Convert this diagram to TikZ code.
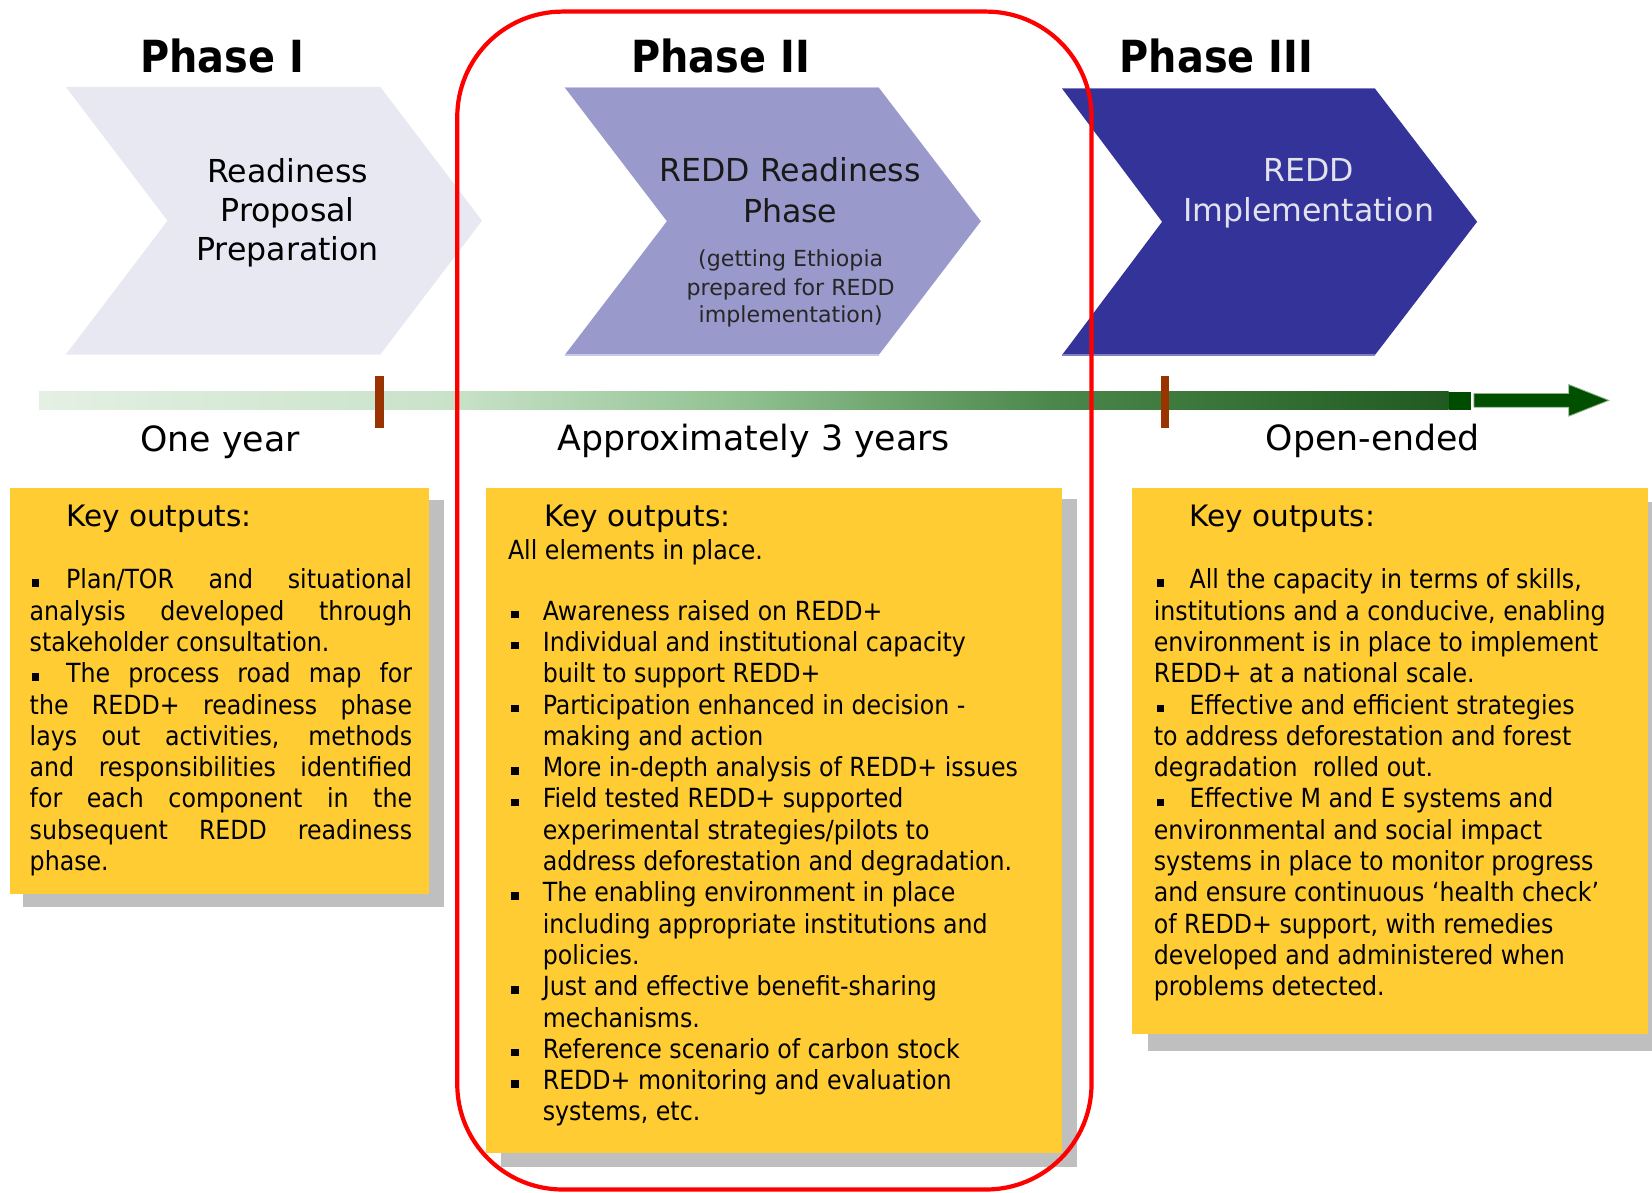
\documentclass[tikz,border=0pt]{standalone}
\usepackage{fontspec}
\setmainfont{DejaVu Sans}
\newfontfamily\condf{DejaVu Sans Condensed}
\definecolor{yel}{RGB}{255,204,51}
\definecolor{shd}{RGB}{191,191,191}
\definecolor{chevone}{RGB}{232,232,243}
\definecolor{chevtwo}{RGB}{153,153,204}
\definecolor{chevtwoline}{RGB}{200,200,230}
\definecolor{chevthree}{RGB}{51,51,153}
\definecolor{chevthreeline}{RGB}{128,128,192}
\definecolor{lighttxt}{RGB}{226,226,236}
\definecolor{tickc}{RGB}{153,51,0}
\definecolor{arrowg}{RGB}{0,80,0}
\definecolor{darkend}{RGB}{0,77,0}
\definecolor{gA}{RGB}{228,240,228}
\definecolor{gB}{RGB}{200,226,200}
\definecolor{gC}{RGB}{145,193,145}
\definecolor{gD}{RGB}{75,135,75}
\definecolor{gE}{RGB}{32,90,32}
\pgfdeclarehorizontalshading{tlshade}{100bp}{color(0bp)=(gA); color(25bp)=(gA); color(39.7bp)=(gB); color(49.8bp)=(gC); color(61bp)=(gD); color(75bp)=(gE); color(100bp)=(gE)}
\newcommand\bul{\rule[2pt]{7pt}{7pt}}
\begin{document}
\begin{tikzpicture}[x=1pt,y=-1pt,
  body/.style={anchor=base west, inner sep=0pt, font=\condf\fontsize{25}{30}\selectfont},
  head/.style={anchor=base west, inner sep=0pt, font=\fontsize{28}{32}\selectfont},
  phase/.style={anchor=base, inner sep=0pt, font=\condf\bfseries\fontsize{42}{48}\selectfont},
  chevtxt/.style={anchor=base, inner sep=0pt, font=\fontsize{30}{36}\selectfont},
  smalltxt/.style={anchor=base, inner sep=0pt, font=\fontsize{21}{25}\selectfont},
  lbl/.style={anchor=base, inner sep=0pt, font=\fontsize{33}{40}\selectfont},
  ybox/.style={fill=yel},
  sbox/.style={fill=shd}]
\useasboundingbox (0,0) rectangle (1568,1132);

% phase titles
\node[phase] (p1) at (211,69) {Phase I};
\node[phase] (p2) at (684,69) {Phase II};
\node[phase] (p3) at (1154.5,69) {Phase III};

% chevrons
\fill[chevone] (62.5,82.5) -- (361,82.5) -- (457.5,209.5) -- (361,336.5) -- (62.5,336.5) -- (159,209.5) -- cycle;
\fill[chevtwo] (536,83) -- (834,83) -- (931,210) -- (834,337) -- (536,337) -- (633,210) -- cycle;
\draw[chevtwoline, line width=1.5pt] (536,83) -- (834,83);
\draw[chevtwoline, line width=1.5pt] (536,337) -- (834,337);
\fill[chevthree] (1008,84) -- (1305,84) -- (1402,210.5) -- (1305,337) -- (1008,337) -- (1103,210.5) -- cycle;
\draw[chevthreeline, line width=1.5pt] (1008,84) -- (1305,84);
\draw[chevthreeline, line width=1.5pt] (1008,337) -- (1305,337);

\node[chevtxt] (c1a) at (273,173) {Readiness};
\node[chevtxt] (c1b) at (273,210) {Proposal};
\node[chevtxt] (c1c) at (273,247) {Preparation};

\node[chevtxt, text=black!90] (c2a) at (750,172) {REDD Readiness};
\node[chevtxt, text=black!90] (c2b) at (750,211) {Phase};
\node[smalltxt, text=black!85] (c2c) at (750.5,253) {(getting Ethiopia};
\node[smalltxt, text=black!85] (c2d) at (750.5,280) {prepared for REDD};
\node[smalltxt, text=black!85] (c2e) at (750.5,306) {implementation)};

\node[chevtxt, text=lighttxt] (c3a) at (1242,172) {REDD};
\node[chevtxt, text=lighttxt] (c3b) at (1242,210) {Implementation};

% timeline
\shade[shading=tlshade] (37,372) rectangle (1375,389);
\fill[darkend] (1375,372) rectangle (1396,389);
\filldraw[fill=arrowg, draw=arrowg!45!white, line width=0.8pt] (1399,373.5) -- (1489,373.5) -- (1489,365) -- (1527,380) -- (1489,395) -- (1489,386.5) -- (1399,386.5) -- cycle;
\fill[tickc] (356,357) rectangle (364,406);
\fill[tickc] (1102,357) rectangle (1110,406);

\node[lbl] (t1) at (209,429) {One year};
\node[lbl] (t2) at (715.5,428) {Approximately 3 years};
\node[lbl] (t3) at (1303,428) {Open-ended};

% boxes
\fill[sbox] (21.5,474.5) rectangle (421,861);
\fill[ybox] (9.5,463) rectangle (407,849);
\fill[sbox] (475.5,474) rectangle (1022,1108);
\fill[ybox] (461,463) rectangle (1008,1094);
\fill[sbox] (1089.5,476) rectangle (1568,997.5);
\fill[ybox] (1074,463) rectangle (1564,981);

% box 1
\node[head] (b1h) at (62.6,500) {Key outputs:};
\node[body] (b1l0) at (28,559.0) {\makebox[363pt][s]{\hspace{2pt}\bul\hspace{25.6pt}Plan/TOR and situational}};
\node[body] (b1l1) at (28,588.7) {\makebox[363pt][s]{analysis developed through}};
\node[body] (b1l2) at (28,618.4) {stakeholder consultation.};
\node[body] (b1l3) at (28,648.1) {\makebox[363pt][s]{\hspace{2pt}\bul\hspace{25.6pt}The process road map for}};
\node[body] (b1l4) at (28,677.8) {\makebox[363pt][s]{the REDD+ readiness phase}};
\node[body] (b1l5) at (28,707.5) {\makebox[363pt][s]{lays out activities, methods}};
\node[body] (b1l6) at (28,737.2) {\makebox[363pt][s]{and responsibilities identified}};
\node[body] (b1l7) at (28,766.9) {\makebox[363pt][s]{for each component in the}};
\node[body] (b1l8) at (28,796.6) {\makebox[363pt][s]{subsequent REDD readiness}};
\node[body] (b1l9) at (28,826.3) {phase.};

% box 2
\node[head] (b2h) at (517,500) {Key outputs:};
\node[body] (b2a) at (482,531) {All elements in place.};
\node[body] (b2l1) at (485,588.7) {\bul\hspace{23pt}Awareness raised on REDD+};
\node[body] (b2l2) at (485,618.4) {\bul\hspace{23pt}Individual and institutional capacity};
\node[body] (b2l3) at (515,648.1) {built to support REDD+};
\node[body] (b2l4) at (485,677.8) {\bul\hspace{23pt}Participation enhanced in decision -};
\node[body] (b2l5) at (515,707.5) {making and action};
\node[body] (b2l6) at (485,737.2) {\bul\hspace{23pt}More in-depth analysis of REDD+ issues};
\node[body] (b2l7) at (485,766.9) {\bul\hspace{23pt}Field tested REDD+ supported};
\node[body] (b2l8) at (515,796.6) {experimental strategies/pilots to};
\node[body] (b2l9) at (515,826.3) {address deforestation and degradation.};
\node[body] (b2l10) at (485,856.0) {\bul\hspace{23pt}The enabling environment in place};
\node[body] (b2l11) at (515,885.7) {including appropriate institutions and};
\node[body] (b2l12) at (515,915.4) {policies.};
\node[body] (b2l13) at (485,945.1) {\bul\hspace{23pt}Just and effective benefit-sharing};
\node[body] (b2l14) at (515,974.8) {mechanisms.};
\node[body] (b2l15) at (485,1004.5) {\bul\hspace{23pt}Reference scenario of carbon stock};
\node[body] (b2l16) at (485,1034.2) {\bul\hspace{23pt}REDD+ monitoring and evaluation};
\node[body] (b2l17) at (515,1063.9) {systems, etc.};

% box 3
\node[head] (b3h) at (1129,500) {Key outputs:};
\node[body] (b3l0) at (1098,559.0) {\bul\hspace{24pt}All the capacity in terms of skills,};
\node[body] (b3l1) at (1095,588.7) {institutions and a conducive, enabling};
\node[body] (b3l2) at (1095,618.4) {environment is in place to implement};
\node[body] (b3l3) at (1095,648.1) {REDD+ at a national scale.};
\node[body] (b3l4) at (1098,677.8) {\bul\hspace{24pt}Effective and efficient strategies};
\node[body] (b3l5) at (1095,707.5) {to address deforestation and forest};
\node[body] (b3l6) at (1095,737.2) {degradation\ \ rolled out.};
\node[body] (b3l7) at (1098,766.9) {\bul\hspace{24pt}Effective M and E systems and};
\node[body] (b3l8) at (1095,796.6) {environmental and social impact};
\node[body] (b3l9) at (1095,826.3) {systems in place to monitor progress};
\node[body] (b3l10) at (1095,856.0) {and ensure continuous ‘health check’};
\node[body] (b3l11) at (1095,885.7) {of REDD+ support, with remedies};
\node[body] (b3l12) at (1095,915.4) {developed and administered when};
\node[body] (b3l13) at (1095,945.1) {problems detected.};

% red frame
\draw[red, line width=4pt, rounded corners=100pt] (434,11) rectangle (1036,1129);
\end{tikzpicture}
\end{document}
